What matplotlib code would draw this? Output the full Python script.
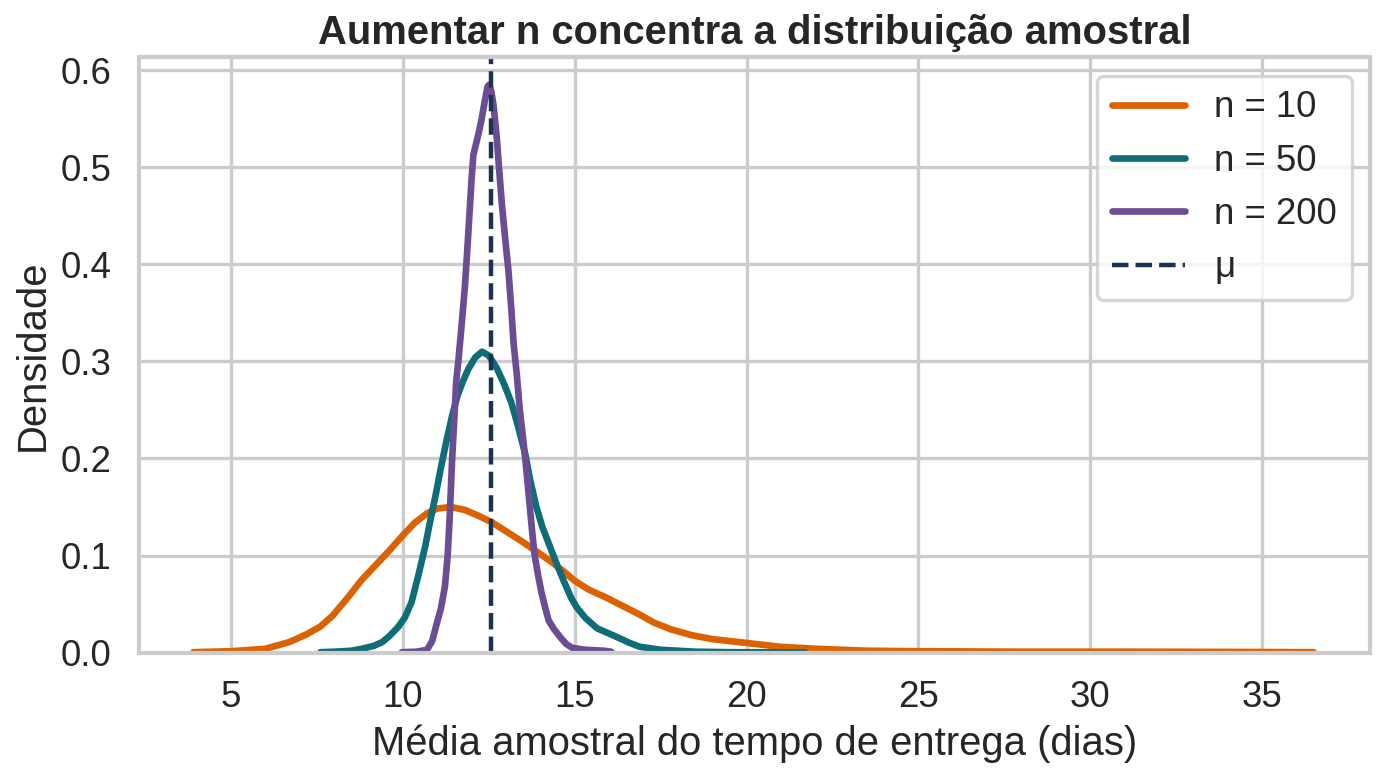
import matplotlib
matplotlib.use("Agg")
import matplotlib.pyplot as plt
import seaborn as sns

# densidade estimada para cada tamanho de amostra
x_n10 = [3.9, 5.0, 6.0, 6.7, 7.2, 7.6, 7.95, 8.4, 8.8, 9.2, 9.6, 10.0, 10.35, 10.7,
         11.0, 11.4, 11.8, 12.2, 12.6, 13.0, 13.4, 13.9, 14.3, 14.7, 15.0, 15.4,
         15.9, 16.4, 16.9, 17.3, 17.8, 18.4, 19.0, 20.0, 21.0, 22.0, 23.5, 25.0,
         28.0, 31.0, 34.0, 36.5]
y_n10 = [0.0005, 0.0015, 0.004, 0.011, 0.019, 0.027, 0.038, 0.057, 0.075, 0.090,
         0.105, 0.121, 0.134, 0.1435, 0.1485, 0.150, 0.147, 0.141, 0.134, 0.125,
         0.116, 0.104, 0.094, 0.083, 0.074, 0.065, 0.057, 0.048, 0.039, 0.031,
         0.024, 0.018, 0.014, 0.010, 0.006, 0.004, 0.002, 0.0015, 0.001, 0.001,
         0.0008, 0.0005]

x_n50 = [7.6, 8.0, 8.5, 8.8, 9.15, 9.4, 9.6, 9.85, 10.05, 10.25, 10.45, 10.65, 10.8,
         10.96, 11.1, 11.27, 11.43, 11.58, 11.75, 11.9, 12.1, 12.3, 12.5, 12.73,
         12.95, 13.15, 13.35, 13.56, 13.7, 13.875, 14.05, 14.29, 14.5, 14.7, 14.9,
         15.05, 15.3, 15.65, 16.17, 16.6, 16.9, 17.5, 18.5, 19.5, 21.7]
y_n50 = [0.0005, 0.001, 0.002, 0.004, 0.007, 0.011, 0.017, 0.026, 0.036, 0.052,
         0.080, 0.110, 0.137, 0.164, 0.190, 0.219, 0.244, 0.264, 0.280, 0.292,
         0.304, 0.310, 0.306, 0.293, 0.276, 0.258, 0.233, 0.204, 0.178, 0.151,
         0.130, 0.108, 0.089, 0.072, 0.056, 0.047, 0.036, 0.025, 0.017, 0.010,
         0.006, 0.003, 0.001, 0.0005, 0.0002]

x_n200 = [9.97, 10.4, 10.7, 10.85, 10.96, 11.1, 11.22, 11.3, 11.36, 11.43, 11.5,
          11.55, 11.61, 11.7, 11.8, 11.88, 11.95, 12.0, 12.05, 12.14, 12.22, 12.29,
          12.38, 12.46, 12.51, 12.57, 12.63, 12.68, 12.73, 12.8, 12.88, 12.97,
          13.07, 13.15, 13.22, 13.31, 13.4, 13.51, 13.6, 13.67, 13.75, 13.82,
          13.93, 14.03, 14.14, 14.24, 14.4, 14.6, 14.75, 14.92, 15.3, 15.85, 16.06]
y_n200 = [0.0005, 0.001, 0.003, 0.012, 0.027, 0.045, 0.068, 0.100, 0.140, 0.199,
          0.245, 0.280, 0.300, 0.335, 0.376, 0.420, 0.461, 0.490, 0.513, 0.526,
          0.538, 0.550, 0.568, 0.583, 0.585, 0.578, 0.565, 0.548, 0.530, 0.497,
          0.461, 0.428, 0.393, 0.355, 0.318, 0.287, 0.250, 0.216, 0.185, 0.158,
          0.128, 0.103, 0.080, 0.062, 0.046, 0.033, 0.024, 0.015, 0.009, 0.005,
          0.003, 0.002, 0.001]

mu = 12.55

series = [
    ("n = 10", x_n10, y_n10, "#DC6100"),
    ("n = 50", x_n50, y_n50, "#0F6D77"),
    ("n = 200", x_n200, y_n200, "#6A4D93"),
]

sns.set_theme(style="whitegrid", context="talk")
plt.rcParams['font.family'] = ['Liberation Sans', 'DejaVu Sans']

DPI = 160
fig, ax = plt.subplots(figsize=(1385 / DPI, 777 / DPI), dpi=DPI)
fig.subplots_adjust(left=0.1004, right=0.9892, top=0.926, bottom=0.16)

for label, xs, ys, color in series:
    ax.plot(xs, ys, color=color, linewidth=3.0, label=label,
            solid_joinstyle="round")

ax.axvline(mu, color="#1B3350", linestyle="--", linewidth=2.0, label="μ")

ax.set_xlim(2.32, 38.14)
ax.set_ylim(0, 0.613)
ax.set_xticks([5, 10, 15, 20, 25, 30, 35])
ax.set_title("Aumentar n concentra a distribuição amostral", fontweight="bold")
ax.set_xlabel("Média amostral do tempo de entrega (dias)")
ax.set_ylabel("Densidade")
ax.legend(loc="upper right")

fig.savefig("out.png", dpi=DPI)
